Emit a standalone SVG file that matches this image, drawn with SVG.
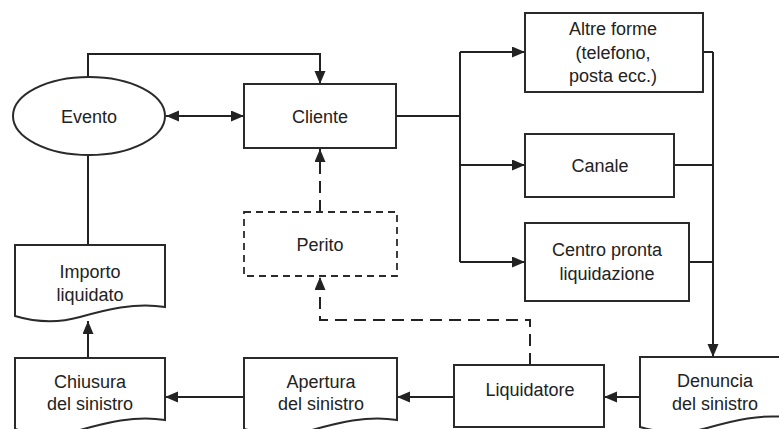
<svg xmlns="http://www.w3.org/2000/svg" width="779" height="429" viewBox="0 0 779 429">
  <style>
    .box { fill: #fff; stroke: #2a2a2a; stroke-width: 2; }
    .dashbox { fill: #fff; stroke: #2a2a2a; stroke-width: 1.8; stroke-dasharray: 7 5; }
    .lbl { font-family: "Liberation Sans", Arial, sans-serif; font-size: 18px; fill: #222; text-anchor: middle; }
    .ln { fill: none; stroke: #222; stroke-width: 2; }
    .dash { fill: none; stroke: #222; stroke-width: 2; stroke-dasharray: 12 7; }
  </style>
  <defs>
    <marker id="ah" markerUnits="userSpaceOnUse" markerWidth="14" markerHeight="12" refX="13" refY="5.5" orient="auto-start-reverse">
      <path d="M0,0 L13,5.5 L0,11 z" fill="#222"/>
    </marker>
  </defs>
  <rect width="779" height="429" fill="#fff"/>

  <g id="connectors">
    <!-- Evento to Cliente over the top -->
    <polyline class="ln" points="88,77 88,54 320,54 320,84" marker-end="url(#ah)"/>
    <!-- Evento <-> Cliente -->
    <line class="ln" x1="166" y1="116" x2="244" y2="116" marker-start="url(#ah)" marker-end="url(#ah)"/>
    <!-- Evento down to Importo liquidato -->
    <line class="ln" x1="88" y1="156" x2="88" y2="245"/>
    <!-- Cliente fan-out to channels -->
    <polyline class="ln" points="396,116 460,116"/>
    <line class="ln" x1="460" y1="52" x2="460" y2="262"/>
    <line class="ln" x1="460" y1="52" x2="525" y2="52" marker-end="url(#ah)"/>
    <line class="ln" x1="460" y1="165" x2="525" y2="165" marker-end="url(#ah)"/>
    <line class="ln" x1="460" y1="262" x2="525" y2="262" marker-end="url(#ah)"/>
    <!-- channels collect into Denuncia -->
    <line class="ln" x1="703" y1="52" x2="713" y2="52"/>
    <line class="ln" x1="674" y1="165" x2="713" y2="165"/>
    <line class="ln" x1="689" y1="262" x2="713" y2="262"/>
    <line class="ln" x1="713" y1="52" x2="713" y2="357" marker-end="url(#ah)"/>
    <!-- bottom chain -->
    <line class="ln" x1="640" y1="397" x2="604" y2="397" marker-end="url(#ah)"/>
    <line class="ln" x1="454" y1="397" x2="397" y2="397" marker-end="url(#ah)"/>
    <line class="ln" x1="244" y1="397" x2="165" y2="397" marker-end="url(#ah)"/>
    <line class="ln" x1="88" y1="358" x2="88" y2="321" marker-end="url(#ah)"/>
    <!-- dashed links through Perito -->
    <polyline class="dash" points="530,365 530,320 320,320 320,277" marker-end="url(#ah)"/>
    <line class="dash" x1="320" y1="212" x2="320" y2="149" marker-end="url(#ah)"/>
  </g>

  <g id="evento">
    <ellipse class="box" cx="89" cy="116" rx="76" ry="39"/>
    <text class="lbl" x="89" y="123">Evento</text>
  </g>
  <g id="cliente">
    <rect class="box" x="244" y="84" width="152" height="64"/>
    <text class="lbl" x="320" y="123">Cliente</text>
  </g>
  <g id="altre-forme">
    <rect class="box" x="525" y="13" width="178" height="79"/>
    <text class="lbl" x="613" y="35">Altre forme</text>
    <text class="lbl" x="613" y="59">(telefono,</text>
    <text class="lbl" x="613" y="82">posta ecc.)</text>
  </g>
  <g id="canale">
    <rect class="box" x="525" y="134" width="149" height="63"/>
    <text class="lbl" x="600" y="172">Canale</text>
  </g>
  <g id="centro-pronta">
    <rect class="box" x="525" y="223" width="164" height="78"/>
    <text class="lbl" x="607" y="256">Centro pronta</text>
    <text class="lbl" x="607" y="280">liquidazione</text>
  </g>
  <g id="perito">
    <rect class="dashbox" x="244" y="212" width="153" height="64"/>
    <text class="lbl" x="320" y="251">Perito</text>
  </g>
  <g id="importo">
    <path class="box" d="M15,245 H165 V307 C135,302 105,310 80,317 C55,324 35,322 15,316 Z"/>
    <text class="lbl" x="90" y="278">Importo</text>
    <text class="lbl" x="90" y="301">liquidato</text>
  </g>
  <g id="chiusura">
    <path class="box" d="M15,358 H165 V420 C135,415 105,423 80,430 C55,437 35,435 15,429 Z"/>
    <text class="lbl" x="90" y="388">Chiusura</text>
    <text class="lbl" x="90" y="410">del sinistro</text>
  </g>
  <g id="apertura">
    <path class="box" d="M244,358 H397 V420 C367,415 337,423 312,430 C287,437 267,435 244,429 Z"/>
    <text class="lbl" x="321" y="388">Apertura</text>
    <text class="lbl" x="321" y="410">del sinistro</text>
  </g>
  <g id="liquidatore">
    <rect class="box" x="454" y="365" width="150" height="62"/>
    <text class="lbl" x="530" y="396">Liquidatore</text>
  </g>
  <g id="denuncia">
    <path class="box" d="M640,357 H792 V418 C762,413 732,421 707,428 C682,435 662,433 640,427 Z"/>
    <text class="lbl" x="715" y="387">Denuncia</text>
    <text class="lbl" x="715" y="410">del sinistro</text>
  </g>
</svg>
